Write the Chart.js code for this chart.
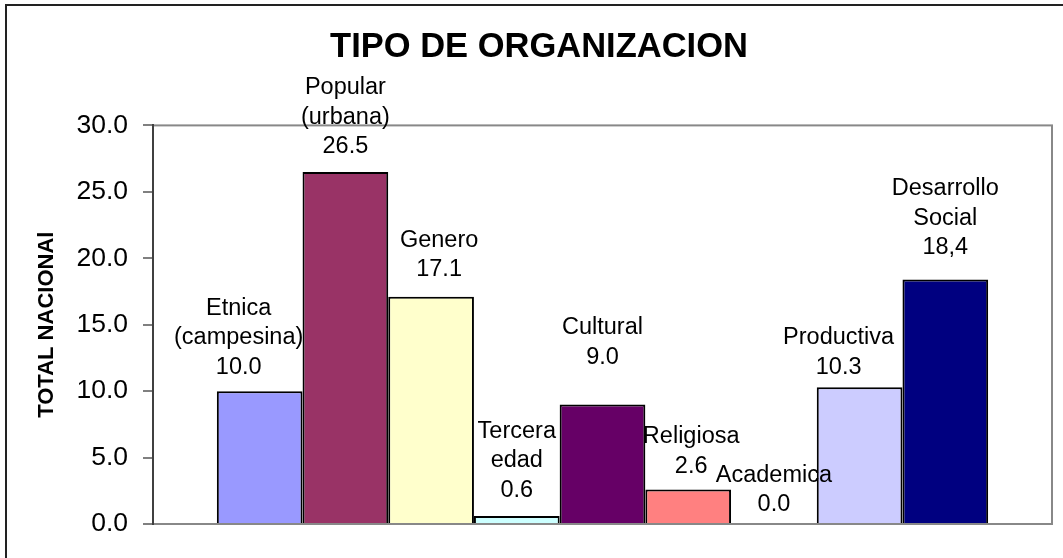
<!DOCTYPE html>
<html>
<head>
<meta charset="utf-8">
<style>
  html, body { margin: 0; padding: 0; background: #fff; }
  #wrap { width: 1063px; height: 558px; }
</style>
<script src="https://cdn.jsdelivr.net/npm/chart.js@4/dist/chart.umd.min.js"></script>
</head>
<body>
<div id="wrap"><canvas id="myChart"></canvas></div>
<script>
// data
var categories = ['Etnica (campesina)', 'Popular (urbana)', 'Genero', 'Tercera edad', 'Cultural', 'Religiosa', 'Academica', 'Productiva', 'Desarrollo Social'];
var nameLines = [['Etnica', '(campesina)'], ['Popular', '(urbana)'], ['Genero'], ['Tercera', 'edad'], ['Cultural'], ['Religiosa'], ['Academica'], ['Productiva'], ['Desarrollo', 'Social']];
var values = [10.0, 26.5, 17.1, 0.6, 9.0, 2.6, 0.0, 10.3, 18.4];
var valueText = ['10.0', '26.5', '17.1', '0.6', '9.0', '2.6', '0.0', '10.3', '18,4'];
var yTicks = [0, 5, 10, 15, 20, 25, 30];

// styles
var colors = ['#9999FF', '#993366', '#FFFFCC', '#CCFFFF', '#660066', '#FF8080', '#0066CC', '#CCCCFF', '#000080'];
// label shift from bar top: [dx, dy]
var labelShift = [[-21, 24], [0, 25], [8, 27], [0, 26], [0, 47], [3, 23], [0, 19], [-21, 20], [0, 32]];

var datasets = categories.map(function (c, i) {
    return {
        label: c,
        data: [values[i]],
        backgroundColor: colors[i],
        borderColor: '#000000',
        borderWidth: 2,
        borderSkipped: 'bottom',
        categoryPercentage: 0.858,
        barPercentage: 1
    };
});

var framePlugin = {
    id: 'frame',
    beforeDraw: function (chart) {
        var c = chart.ctx;
        c.save();
        c.strokeStyle = '#222';
        c.lineWidth = 2;
        c.strokeRect(6, 5, 1200, 700);
        var a = chart.chartArea;
        c.strokeStyle = '#888';
        c.lineWidth = 2;
        c.strokeRect(a.left, a.top, a.right - a.left, a.bottom - a.top);
        c.restore();
    }
};

var labelPlugin = {
    id: 'barLabels',
    afterDatasetsDraw: function (chart) {
        var c = chart.ctx;
        c.save();
        c.font = '23.5px "Liberation Sans", Arial, sans-serif';
        c.fillStyle = '#000';
        c.textAlign = 'center';
        c.textBaseline = 'middle';
        var lh = 29.5;
        chart.data.datasets.forEach(function (ds, i) {
            var bar = chart.getDatasetMeta(i).data[0];
            var lines = nameLines[i].concat([valueText[i]]);
            var x = bar.x + labelShift[i][0];
            var yLast = bar.y - labelShift[i][1];
            for (var k = 0; k < lines.length; k++) {
                c.fillText(lines[k], x, yLast - (lines.length - 1 - k) * lh);
            }
        });
        c.restore();
    }
};

var ctx = document.getElementById('myChart').getContext('2d');
var myChart = new Chart(ctx, {
    type: 'bar',
    data: {
        labels: [''],
        datasets: datasets
    },
    options: {
        responsive: true,
        maintainAspectRatio: false,
        animation: false,
        layout: { padding: { left: 26, right: 11, top: 0, bottom: 34 } },
        plugins: {
            legend: { display: false },
            tooltip: { enabled: false },
            title: {
                display: true,
                text: 'TIPO DE ORGANIZACION',
                color: '#000',
                font: { family: '"Liberation Sans", Arial, sans-serif', size: 34.5, weight: 'bold' },
                padding: { top: 27, bottom: 57 }
            }
        },
        scales: {
            x: { display: false },
            y: {
                min: 0,
                max: 30,
                afterBuildTicks: function (s) {
                    s.ticks = yTicks.map(function (v) { return { value: v }; });
                },
                afterFit: function (s) { s.width = 127; },
                ticks: {
                    color: '#000',
                    padding: 15,
                    font: { family: '"Liberation Sans", Arial, sans-serif', size: 26.5 },
                    callback: function (v) { return Number(v).toFixed(1); }
                },
                grid: { drawOnChartArea: false, tickLength: 10, color: '#808080', lineWidth: 2 },
                border: { color: '#404040', width: 2 },
                title: {
                    display: true,
                    text: 'TOTAL NACIONAl',
                    color: '#000',
                    font: { family: '"Liberation Sans", Arial, sans-serif', size: 22, weight: 'bold' },
                    padding: { top: 8, bottom: 0 }
                }
            }
        }
    },
    plugins: [framePlugin, labelPlugin]
});
</script>
</body>
</html>
